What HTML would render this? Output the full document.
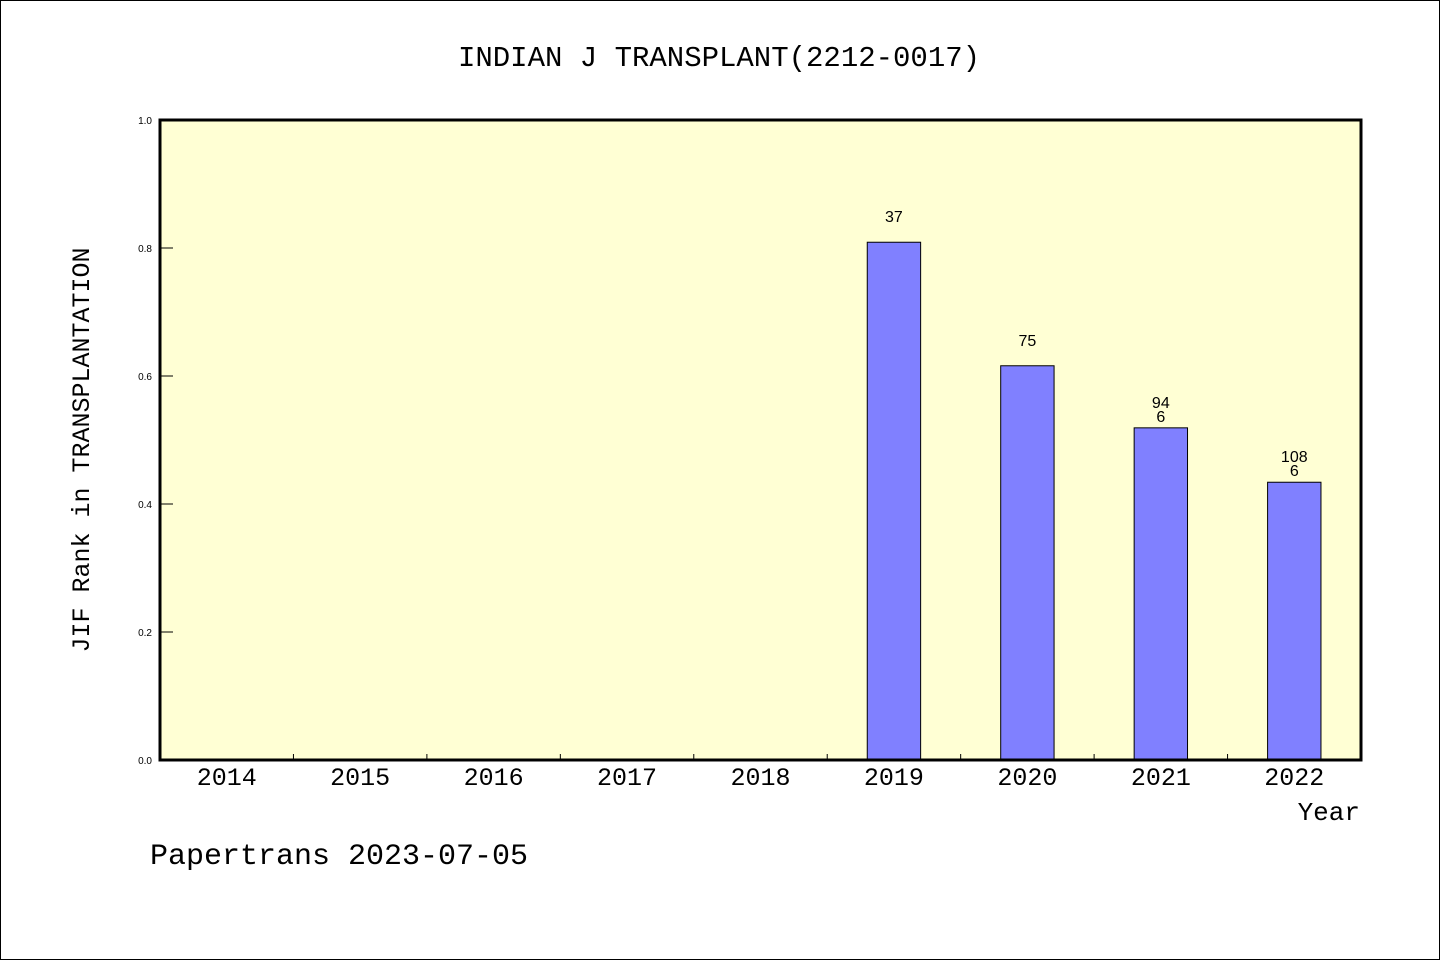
<!DOCTYPE html>
<html><head><meta charset="utf-8"><style>
html,body{margin:0;padding:0;background:#fff}
svg{display:block}
text{font-family:"Liberation Mono","DejaVu Sans Mono",monospace;fill:#000}
</style></head><body>
<svg id="chart" width="1440" height="960" xmlns="http://www.w3.org/2000/svg">
<rect x="0.5" y="0.5" width="1439" height="959" fill="#fff" stroke="#000" stroke-width="1"/>
<text x="719" y="66" font-size="29" text-anchor="middle">INDIAN J TRANSPLANT(2212-0017)</text>
<rect x="160" y="120" width="1201" height="640" fill="#ffffd4"/>
<g id="bars"></g>
<g id="axes"></g>
<rect x="160" y="120" width="1201" height="640" fill="none" stroke="#000" stroke-width="3"/>
<text transform="translate(89,450) rotate(-90)" font-size="25" text-anchor="middle">JIF Rank in TRANSPLANTATION</text>
<text x="1360" y="820" font-size="26" text-anchor="end">Year</text>
<text x="150" y="864" font-size="30">Papertrans 2023-07-05</text>
</svg>
<script>
const categories=["2014","2015","2016","2017","2018","2019","2020","2021","2022"];
const values=[null,null,null,null,null,0.809,0.616,0.519,0.434];
const labels=[null,null,null,null,null,["37"],["75"],["94","6"],["108","6"]];
const yTicks=[0,0.2,0.4,0.6,0.8,1.0];
const X0=160,X1=1361,Y0=760,Y1=120;
const band=(X1-X0)/categories.length;
const xc=i=>X0+band*(i+0.5);
const y=v=>Y0-(v/1)*(Y0-Y1);
const NS="http://www.w3.org/2000/svg";
const bars=document.getElementById('bars'),axes=document.getElementById('axes');
function mk(tag,attrs,parent){const e=document.createElementNS(NS,tag);for(const k in attrs)e.setAttribute(k,attrs[k]);parent.appendChild(e);return e;}
categories.forEach((c,i)=>{
  const t=mk('text',{x:xc(i),y:785,'font-size':25,'text-anchor':'middle'},axes);
  t.textContent=c;
  
  
  if(i>0){const l=mk('line',{x1:X0+band*i,x2:X0+band*i,y1:Y0,y2:Y0-6,stroke:'#000','stroke-width':1},axes);
    
    }
  const v=values[i];
  if(v!=null){
    const w=band*0.4;
    const r=mk('rect',{x:xc(i)-w/2,y:y(v),width:w,height:Y0-y(v),fill:'#8080ff',stroke:'#000','stroke-width':1},bars);
    
    
    const lab=labels[i];
    lab.forEach((s,j)=>{
      const tt=mk('text',{x:xc(i),y:y(v)-20+j*14-(lab.length-1)*14+(lab.length>1?14:0),'font-size':16,'text-anchor':'middle',style:'font-family:"Liberation Sans",sans-serif'},bars);
      tt.textContent=s;
      
      
    });
  }
});
yTicks.forEach(v=>{
  const t=mk('text',{x:152,y:y(v)+4,'font-size':10,'text-anchor':'end',style:'font-family:"Liberation Sans",sans-serif'},axes);
  t.textContent=v.toFixed(1);
  
  
  const l=mk('line',{x1:X0,x2:X0+13,y1:y(v),y2:y(v),stroke:'#000','stroke-width':1},axes);
  
  
});
</script>
</body></html>
